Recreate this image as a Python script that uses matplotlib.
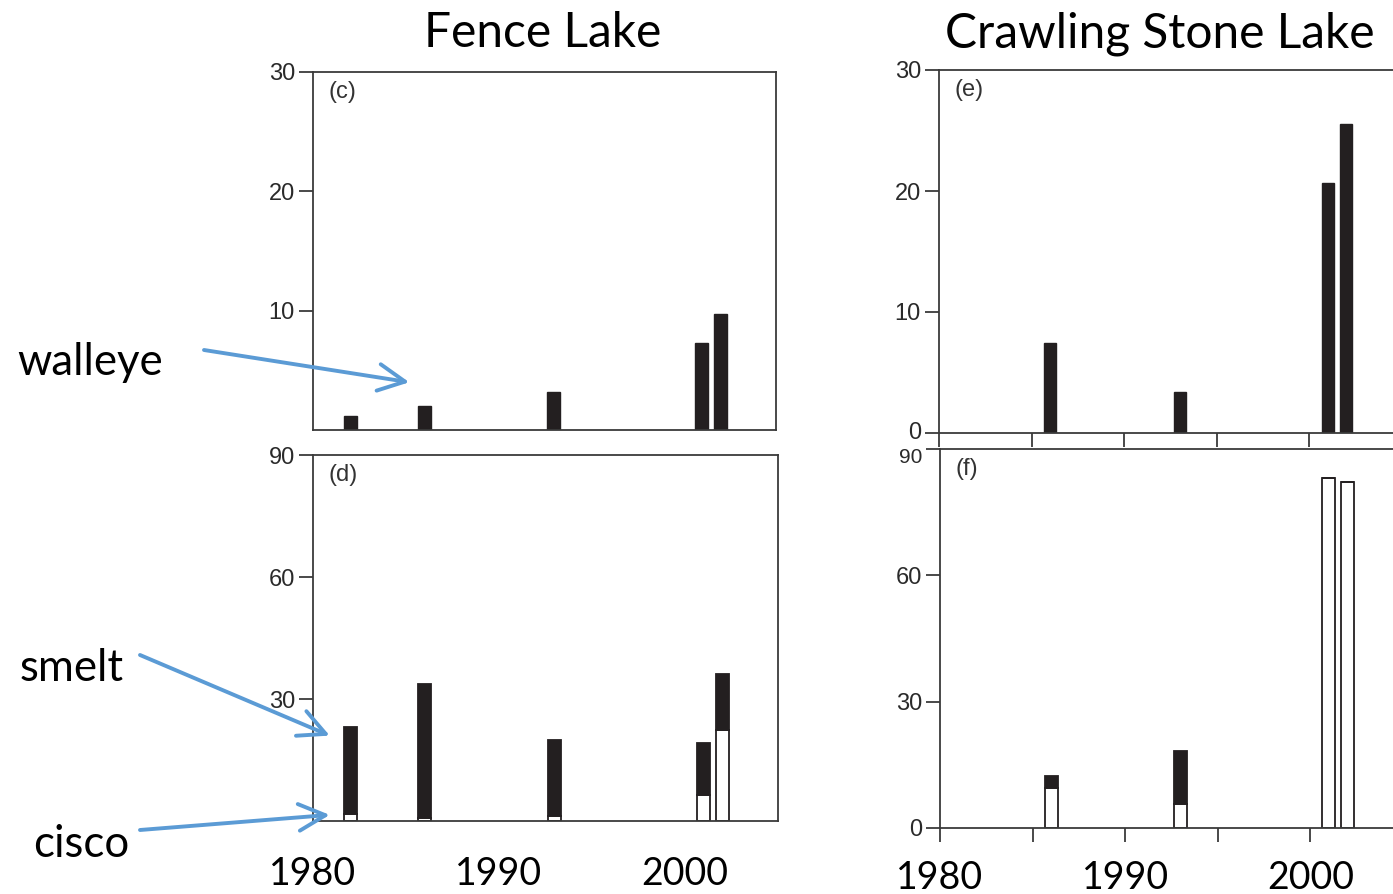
import numpy as np
import matplotlib.pyplot as plt
import matplotlib.transforms as mtransforms

plt.rcParams['font.family'] = ['Liberation Sans', 'DejaVu Sans']

# values
years_fence = [1982, 1986, 1993, 2001, 2002]
walleye_fence = [1.2, 2.0, 3.2, 7.25, 9.75]
cisco_fence = [1.7, 0.7, 1.2, 6.3, 22.5]
smelt_fence = [21.3, 32.9, 18.7, 13.0, 13.6]

years_crawl = [1986, 1993, 2001, 2002]
walleye_crawl = [7.4, 3.35, 20.7, 25.5]
cisco_crawl = [9.6, 5.6, 83.2, 82.2]
smelt_crawl = [2.7, 12.7, 0.0, 0.0]

W, H = 1393, 894
BAR = '#231f20'
SPINE = '#3a3a3a'
BLUE = '#5b9bd5'
big_font = 'Lato'

fig = plt.figure(figsize=(W / 100, H / 100), dpi=100)


def add_ax(l, t, r, b):
    return fig.add_axes([l / W, 1 - b / H, (r - l) / W, (b - t) / H])


ax_c = add_ax(313, 72, 776, 430)
ax_d = add_ax(313, 455, 778, 821)
ax_e = add_ax(939, 70, 1402, 433)
ax_f = add_ax(940, 449, 1403, 828)

# walleye panels
ax_c.bar(years_fence, walleye_fence, width=0.7, color=BAR, edgecolor=BAR)
ax_c.set_ylim(0, 30)
ax_c.set_yticks([10, 20, 30])
ax_c.set_xticks([])

ax_e.bar(years_crawl, walleye_crawl, width=0.65, color=BAR, edgecolor=BAR)
ax_e.set_ylim(0, 30)
ax_e.set_yticks([0, 10, 20, 30])
ax_e.set_xticks([1980, 1985, 1990, 1995, 2000])
ax_e.set_xticklabels([])

# cisco (white) + smelt (black) stacked
ax_d.bar(years_fence, cisco_fence, width=0.7, color='white', edgecolor=BAR, linewidth=1.3)
ax_d.bar(years_fence, smelt_fence, bottom=cisco_fence, width=0.7, color=BAR,
         edgecolor=BAR, linewidth=1.3)
ax_d.set_ylim(0, 90)
ax_d.set_yticks([30, 60, 90])
ax_d.set_xticks([1980, 1990, 2000])
ax_d.set_xticklabels(['1980', '1990', '2000'])

ax_f.bar(years_crawl, cisco_crawl, width=0.7, color='white', edgecolor=BAR, linewidth=1.3)
ax_f.bar(years_crawl, smelt_crawl, bottom=cisco_crawl, width=0.7, color=BAR,
         edgecolor=BAR, linewidth=1.3)
ax_f.set_ylim(0, 90)
ax_f.set_yticks([0, 30, 60, 90])
ax_f.set_xticks([1980, 1985, 1990, 1995, 2000])
ax_f.set_xticklabels(['1980', '', '1990', '', '2000'])

for ax in (ax_c, ax_d, ax_e, ax_f):
    ax.set_xlim(1980, 2005)
    for s in ax.spines.values():
        s.set_color(SPINE)
        s.set_linewidth(1.3)
    ax.tick_params(axis='y', direction='out', length=10, width=1.3, color=SPINE,
                   labelsize=17, labelcolor='#2a2a2a', pad=3)

ax_e.tick_params(axis='x', direction='out', length=10, width=1.3, color=SPINE)
ax_d.tick_params(axis='x', length=0, pad=25, labelsize=27)
ax_f.tick_params(axis='x', direction='out', length=10, width=1.3, color=SPINE,
                 pad=13, labelsize=27)
for ax in (ax_d, ax_f):
    for lab in ax.get_xticklabels():
        lab.set_family(big_font)
        lab.set_color('black')

# keep the top label of (f) clear of the 0 of (e)
top_lab = ax_f.get_yticklabels()[-1]
top_lab.set_transform(top_lab.get_transform() +
                      mtransforms.ScaledTranslation(0, -5 / 72, fig.dpi_scale_trans))
top_lab.set_fontsize(15)
ax_e.get_yticklabels()[0].set_transform(
    ax_e.get_yticklabels()[0].get_transform() +
    mtransforms.ScaledTranslation(0, 2 / 72, fig.dpi_scale_trans))

for ax, tag in ((ax_c, '(c)'), (ax_d, '(d)'), (ax_e, '(e)'), (ax_f, '(f)')):
    ax.text(0.033, 0.975, tag, transform=ax.transAxes, ha='left', va='top',
            fontsize=17, color='#333333')

# titles
fig.text(543 / W, 1 - 47 / H, 'Fence Lake', ha='center', va='baseline',
         fontsize=34.5, family=big_font)
fig.text(1160 / W, 1 - 47 / H, 'Crawling Stone Lake', ha='center', va='baseline',
         fontsize=34.5, family=big_font)

# species labels with arrows
fig.text(17 / W, 1 - 375 / H, 'walleye', ha='left', va='baseline', fontsize=31.5, family=big_font)
fig.text(20 / W, 1 - 681 / H, 'smelt', ha='left', va='baseline', fontsize=31.5, family=big_font)
fig.text(33 / W, 1 - 857 / H, 'cisco', ha='left', va='baseline', fontsize=31.5, family=big_font)

arrow = dict(arrowstyle='->,head_length=0.8,head_width=0.4', color=BLUE, lw=2.8,
             mutation_scale=24, shrinkA=0, shrinkB=0)
ax_c.annotate('', xy=(1985.2, 4.0), xytext=(204, H - 350), textcoords='figure pixels',
              arrowprops=arrow, annotation_clip=False)
ax_d.annotate('', xy=(1980.9, 21.0), xytext=(140, H - 655), textcoords='figure pixels',
              arrowprops=arrow, annotation_clip=False)
ax_d.annotate('', xy=(1980.9, 1.5), xytext=(140, H - 830), textcoords='figure pixels',
              arrowprops=arrow, annotation_clip=False)

fig.savefig('out.png', dpi=100)
